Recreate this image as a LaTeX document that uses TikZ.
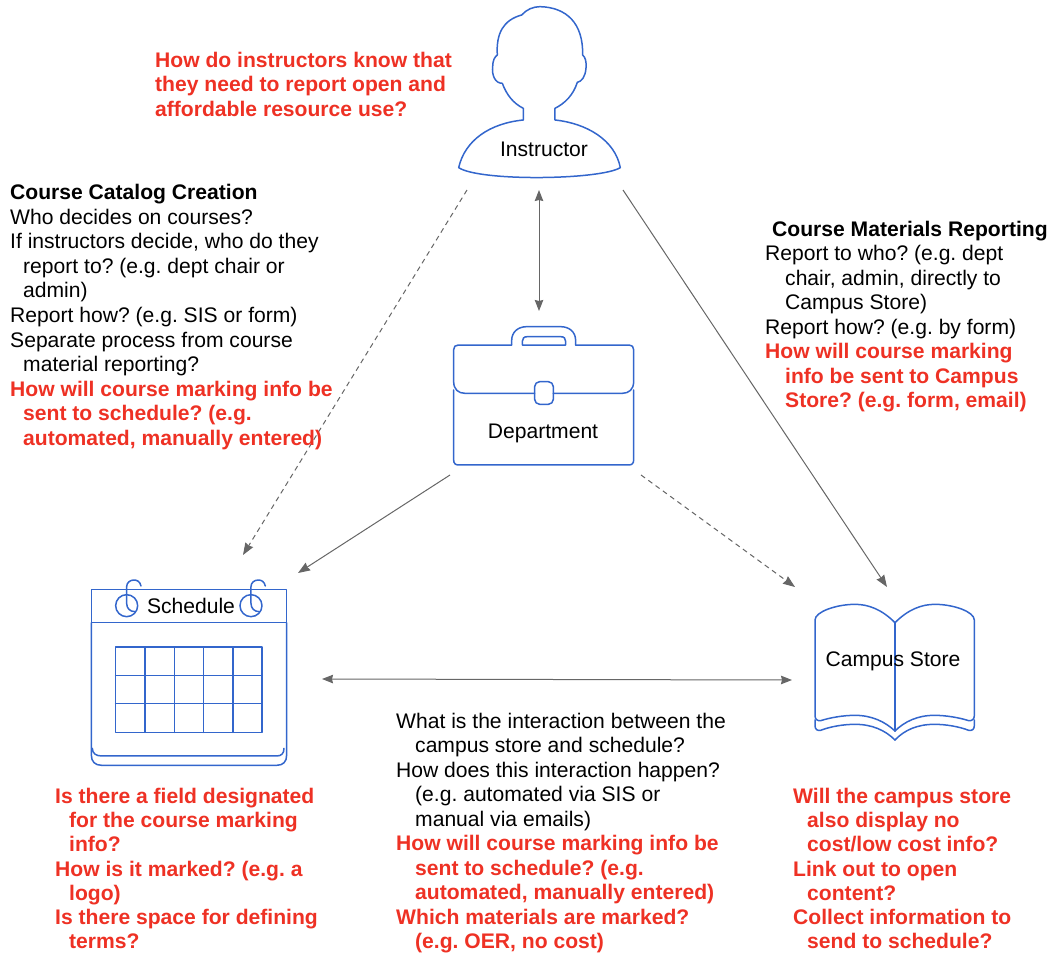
\documentclass[tikz,border=0pt]{standalone}
\usepackage{fontspec}
\setmainfont{Liberation Sans}
\usetikzlibrary{arrows.meta}
\definecolor{iconblue}{HTML}{3366CC}
\definecolor{qred}{HTML}{EE3124}
\definecolor{linkgray}{HTML}{666666}
\newcommand{\hind}[1]{\hspace*{#1pt}}
\tikzset{
  x=1pt,y=-1pt,
  icon/.style={draw=iconblue,line width=1.5pt,line join=round,line cap=round},
  label/.style={inner sep=0pt,font=\frenchspacing\fontsize{21.1}{24.45}\selectfont,text=black},
  block/.style={inner sep=0pt,anchor=north west,align=left,font=\frenchspacing\fontsize{21.1}{24.45}\selectfont,text=black},
  red/.style={text=qred},
  link/.style={draw=linkgray,line width=1pt,-{Stealth[length=12pt,width=9pt,inset=1pt]}},
  dlink/.style={draw=linkgray,line width=1pt,{Stealth[length=11pt,width=8.5pt,inset=1pt]}-{Stealth[length=11pt,width=8.5pt,inset=1pt]}},
  dashlink/.style={link,dash pattern=on 5pt off 4pt},
}
\begin{document}
\begin{tikzpicture}
\useasboundingbox (0,0) rectangle (1058,980);
% Instructor icon
\begin{scope}[shift={(440,0)},x=0.3333pt,y=-0.3333pt]
\draw[icon] (56,503) .. controls (75,420) and (150,370) .. (250,360) -- (250,325)
  .. controls (220,310) and (200,285) .. (187,250)
  .. controls (165,250) and (155,225) .. (158,200)
  .. controls (158,180) and (165,170) .. (172,165)
  .. controls (168,100) and (190,60) .. (245,45)
  .. controls (260,28) and (280,20) .. (300,20)
  .. controls (380,22) and (430,70) .. (428,165)
  .. controls (436,172) and (440,185) .. (438,205)
  .. controls (436,230) and (425,245) .. (412,247)
  .. controls (400,285) and (375,310) .. (345,325) -- (345,360)
  .. controls (440,370) and (525,420) .. (541,503)
  .. controls (480,540) and (120,545) .. (56,503) -- cycle;
\end{scope}
% Department icon
\begin{scope}[shift={(440,310)},x=0.3333pt,y=-0.3333pt]
\draw[icon] (215,105) -- (55,105) .. controls (46,105) and (41,110) .. (41,119) -- (41,215)
  .. controls (41,238) and (55,250) .. (75,250) -- (284,250);
\draw[icon] (407,105) -- (567,105) .. controls (576,105) and (581,110) .. (581,119) -- (581,215)
  .. controls (581,238) and (567,250) .. (547,250) -- (340,250);
\draw[icon] (215,105) -- (215,92) .. controls (215,65) and (235,50) .. (260,50) -- (362,50)
  .. controls (387,50) and (407,65) .. (407,92) -- (407,105);
\draw[icon] (247,105) -- (247,94) .. controls (247,85) and (252,80) .. (262,80) -- (362,80)
  .. controls (372,80) and (377,85) .. (377,94) -- (377,105) -- cycle;
\draw[icon,rounded corners=5pt] (284,215) rectangle (340,283);
\draw[icon] (41,240) -- (41,450) .. controls (41,460) and (46,465) .. (56,465) -- (566,465)
  .. controls (576,465) and (581,460) .. (581,450) -- (581,240);
\end{scope}
% Schedule icon
\begin{scope}[shift={(80,570)},x=0.3333pt,y=-0.3333pt]
\draw[icon] (34,158) -- (34,58) -- (620,58) -- (620,158) -- cycle;
\draw[icon] (34,158) -- (34,555) .. controls (34,575) and (45,586) .. (65,586) -- (590,586)
  .. controls (610,586) and (620,575) .. (620,555) -- (620,158);
\draw[icon] (37,535) .. controls (37,550) and (48,558) .. (65,558) -- (590,558)
  .. controls (605,558) and (612,550) .. (612,535);
\draw[icon] (107,231) rectangle (546,487);
\foreach \gx in {195,283,371,459} \draw[icon] (\gx,231) -- (\gx,487);
\foreach \gy in {316,401} \draw[icon] (107,\gy) -- (546,\gy);
\foreach \rx in {0,373} {
  \draw[icon] (140+\rx,107) circle [radius=11pt];
  \draw[icon] (183+\rx,48) .. controls (180+\rx,35) and (172+\rx,30) .. (162+\rx,30)
    .. controls (150+\rx,30) and (140+\rx,38) .. (140+\rx,50) -- (140+\rx,100)
    .. controls (140+\rx,115) and (150+\rx,125) .. (165+\rx,125);
}
\end{scope}
% Campus Store icon
\begin{scope}[shift={(780,570)},x=0.3333pt,y=-0.3333pt]
\draw[icon] (345,158) .. controls (305,118) and (265,103) .. (225,103)
  .. controls (170,103) and (105,125) .. (105,150) -- (105,437)
  .. controls (105,448) and (112,453) .. (122,452)
  .. controls (150,443) and (190,436) .. (225,436)
  .. controls (275,436) and (315,455) .. (345,483);
\draw[icon] (345,158) .. controls (385,118) and (425,103) .. (465,103)
  .. controls (520,103) and (583,125) .. (583,150) -- (583,437)
  .. controls (583,448) and (576,453) .. (566,452)
  .. controls (538,443) and (498,436) .. (463,436)
  .. controls (413,436) and (373,455) .. (345,483);
\draw[icon] (345,158) -- (345,483);
\draw[icon] (105,450) -- (105,467) .. controls (105,478) and (112,483) .. (122,481)
  .. controls (150,470) and (190,463) .. (225,463)
  .. controls (275,463) and (315,480) .. (345,510);
\draw[icon] (583,450) -- (583,467) .. controls (583,478) and (576,483) .. (566,481)
  .. controls (538,470) and (498,463) .. (463,463)
  .. controls (413,463) and (373,480) .. (345,510);
\end{scope}
% Icon labels
\node[label] (instructor) at (544,149) {Instructor};
\node[label] (department) at (543,433) {Department};
\node[label] (schedule) at (191,606) {Schedule};
\node[label] (store) at (893,661) {Campus Store};
% Connector ends
\coordinate (iA) at (467,190);
\coordinate (sA) at (243,555);
\coordinate (iB) at (539,190);
\coordinate (dB) at (539,311);
\coordinate (iC) at (623,190);
\coordinate (cC) at (887,587);
\coordinate (dD) at (450,475);
\coordinate (sD) at (298,573);
\coordinate (dE) at (641,475);
\coordinate (cE) at (795,587);
\coordinate (sF) at (322,679);
\coordinate (cF) at (792,680);
\draw[dashlink] (iA) -- (sA);
\draw[dlink] (iB) -- (dB);
\draw[link] (iC) -- (cC);
\draw[link] (dD) -- (sD);
\draw[dashlink] (dE) -- (cE);
\draw[dlink] (sF) -- (cF);
% Text blocks
\node[block,red] (q1) at (155,52) {\bfseries How do instructors know that\\\bfseries they need to report open and\\\bfseries affordable resource use?};
\node[block,font=\frenchspacing\fontsize{21.1}{24.6}\selectfont] (catalog) at (10,184) {\bfseries Course Catalog Creation\\
Who decides on courses?\\
If instructors decide, who do they\\
\hind{13}report to? (e.g. dept chair or\\
\hind{13}admin)\\
Report how? (e.g. SIS or form)\\
Separate process from course\\
\hind{13}material reporting?\\
\textcolor{qred}{\bfseries How will course marking info be}\\
\textcolor{qred}{\bfseries \hind{13}sent to schedule? (e.g.}\\
\textcolor{qred}{\bfseries \hind{13}automated, manually entered)}};
\node[block] (materials) at (765,221) {\hind{7}\bfseries Course Materials Reporting\\
Report to who? (e.g. dept\\
\hind{20}chair, admin, directly to\\
\hind{20}Campus Store)\\
Report how? (e.g. by form)\\
\textcolor{qred}{\bfseries How will course marking}\\
\textcolor{qred}{\bfseries \hind{20}info be sent to Campus}\\
\textcolor{qred}{\bfseries \hind{20}Store? (e.g. form, email)}};
\node[block,red,font=\frenchspacing\fontsize{21.1}{24.2}\selectfont] (q2) at (55,788) {\bfseries Is there a field designated\\
\bfseries \hind{14}for the course marking\\
\bfseries \hind{14}info?\\
\bfseries How is it marked? (e.g. a\\
\bfseries \hind{14}logo)\\
\bfseries Is there space for defining\\
\bfseries \hind{14}terms?};
\node[block] (interaction) at (396,713) {What is the interaction between the\\
\hind{19}campus store and schedule?\\
How does this interaction happen?\\
\hind{19}(e.g. automated via SIS or\\
\hind{19}manual via emails)\\
\textcolor{qred}{\bfseries How will course marking info be}\\
\textcolor{qred}{\bfseries \hind{19}sent to schedule? (e.g.}\\
\textcolor{qred}{\bfseries \hind{19}automated, manually entered)}\\
\textcolor{qred}{\bfseries Which materials are marked?}\\
\textcolor{qred}{\bfseries \hind{19}(e.g. OER, no cost)}};
\node[block,red,font=\frenchspacing\fontsize{21.1}{24.2}\selectfont] (q3) at (793,788) {\bfseries Will the campus store\\
\bfseries \hind{14}also display no\\
\bfseries \hind{14}cost/low cost info?\\
\bfseries Link out to open\\
\bfseries \hind{14}content?\\
\bfseries Collect information to\\
\bfseries \hind{14}send to schedule?};
\end{tikzpicture}
\end{document}
